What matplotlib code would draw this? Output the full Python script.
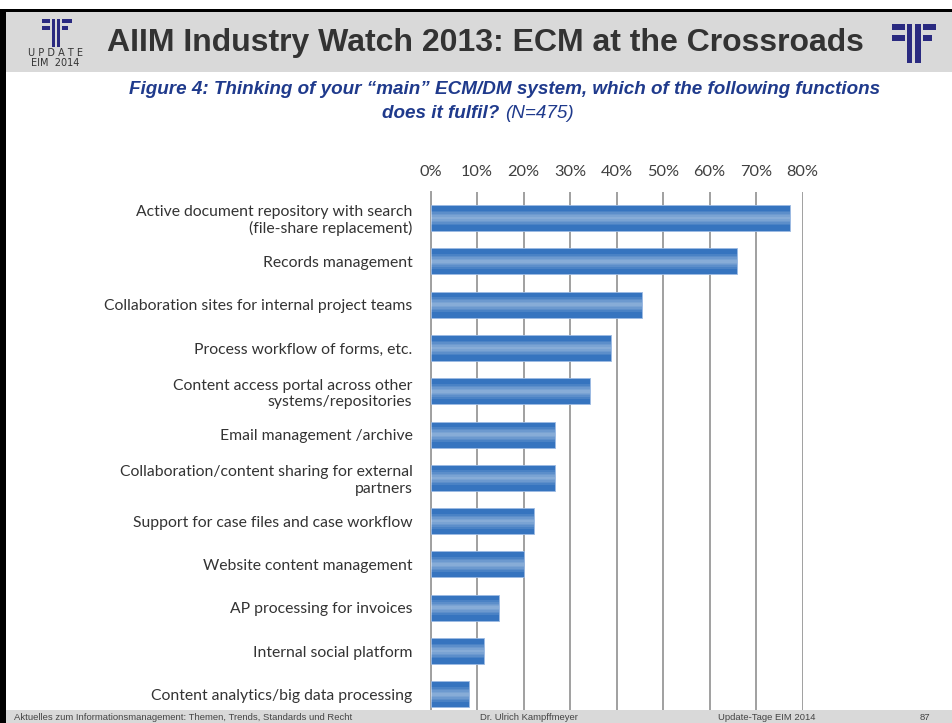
import matplotlib
matplotlib.use('Agg')
from matplotlib import pyplot as plt
from matplotlib.patches import Rectangle

categories = [
    'Active document repository with search\n(file-share replacement)',
    'Records management',
    'Collaboration sites for internal project teams',
    'Process workflow of forms, etc.',
    'Content access portal across other\nsystems/repositories',
    'Email management /archive',
    'Collaboration/content sharing for external\npartners',
    'Support for case files and case workflow',
    'Website content management',
    'AP processing for invoices',
    'Internal social platform',
    'Content analytics/big data processing',
]
values = [77.3, 65.9, 45.5, 38.8, 34.3, 26.8, 26.8, 22.3, 20.1, 14.7, 11.6, 8.3]
tick_values = [0, 10, 20, 30, 40, 50, 60, 70, 80]
tick_labels = ['0%', '10%', '20%', '30%', '40%', '50%', '60%', '70%', '80%']

W, H = 952, 723
NAVY = '#2a2a80'
BAND = '#d9d9d9'
NARROW = ['Liberation Sans Narrow', 'Liberation Sans', 'DejaVu Sans']


def box(fig, x0, y0, x1, y1, color):
    # rectangle in pixel coordinates measured from the top-left corner
    fig.add_artist(Rectangle((x0 / W, 1 - y1 / H), (x1 - x0) / W, (y1 - y0) / H,
                             transform=fig.transFigure, color=color, lw=0))


def txt(fig, x, y, s, **kw):
    fig.text(x / W, 1 - y / H, s, **kw)


def logo(fig, x, y, parts):
    for (a, b, c, d) in parts:
        box(fig, x + a, y + b, x + c, y + d, NAVY)


fig = plt.figure(figsize=(W / 100, H / 100), dpi=100)
fig.patch.set_facecolor('white')

# slide frame, header and footer
box(fig, 0, 9, W, 12, 'black')
box(fig, 0, 9, 6, H, 'black')
box(fig, 6, 12, W, 72, BAND)
box(fig, 6, 710, W, H, BAND)

logo(fig, 42, 19, [(0, 0, 8, 4), (0, 7, 8, 11), (10, 0, 13, 28), (15, 0, 18, 28),
                   (20, 0, 30, 4), (20, 7, 26, 11)])
txt(fig, 55, 53, 'U P D A T E', ha='center', va='center', fontsize=7,
    color='#333333', family='DejaVu Sans')
txt(fig, 55, 63, 'EIM  2014', ha='center', va='center', fontsize=7,
    color='#333333', family='DejaVu Sans')
logo(fig, 892, 24, [(0, 0, 13, 6), (0, 11, 13, 17), (15, 0, 20, 39), (23, 0, 29, 39),
                    (31, 0, 44, 6), (31, 11, 40, 17)])

txt(fig, 485, 43, 'AIIM Industry Watch 2013: ECM at the Crossroads', ha='center',
    va='center', fontsize=23, fontweight='bold', color='#333333', family=NARROW)
txt(fig, 505, 89, 'Figure 4: Thinking of your \u201cmain\u201d ECM/DM system, which of the following functions',
    ha='center', va='center', fontsize=13.6, fontweight='bold', fontstyle='italic',
    color='#1f3a8c', family=NARROW)
txt(fig, 505, 113, 'does it fulfil? ', ha='right', va='center', fontsize=13.6,
    fontweight='bold', fontstyle='italic', color='#1f3a8c', family=NARROW)
txt(fig, 505, 113, '(N=475)', ha='left', va='center', fontsize=13.6,
    fontstyle='italic', color='#1f3a8c', family=NARROW)

for x, s in [(14, 'Aktuelles zum Informationsmanagement: Themen, Trends, Standards und Recht'),
             (480, 'Dr. Ulrich Kampffmeyer'), (718, 'Update-Tage EIM 2014'), (920, '87')]:
    txt(fig, x, 718, s, ha='left', va='center', fontsize=6.8, color='#444444', family=NARROW)

# chart
ax = fig.add_axes([430.5 / W, 13 / H, 372.2 / W, 518 / H])
ax.set_zorder(0)
ypos = list(range(len(categories)))
ax.barh(ypos, values, height=0.6, color='#3674bf', edgecolor='#9dbbe3', linewidth=0.6, zorder=3)
for h in [0.34, 0.26, 0.19, 0.12, 0.06]:
    ax.barh(ypos, values, height=h, color='white', alpha=0.1, linewidth=0, zorder=4)

ax.set_xlim(0, 80)
ax.set_ylim(11.36, -0.6)
ax.set_xticks(tick_values)
ax.set_xticklabels(tick_labels)
ax.set_yticks(ypos)
ax.set_yticklabels(categories)
ax.xaxis.tick_top()
ax.tick_params(axis='x', length=0, pad=9.5, labelsize=11.8, labelcolor='#404040')
ax.tick_params(axis='y', length=0, pad=13, labelsize=11.3, labelcolor='#333333')
for lab in ax.get_xticklabels() + ax.get_yticklabels():
    lab.set_family(['Lato', 'DejaVu Sans'])
ax.grid(axis='x', color='#a0a0a0', linewidth=1.4, zorder=0)
ax.set_axisbelow(True)
for side in ['top', 'right', 'bottom']:
    ax.spines[side].set_visible(False)
ax.spines['left'].set_color('#a0a0a0')
ax.spines['left'].set_linewidth(1.4)

fig.savefig('out.png', dpi=100, facecolor='white')
